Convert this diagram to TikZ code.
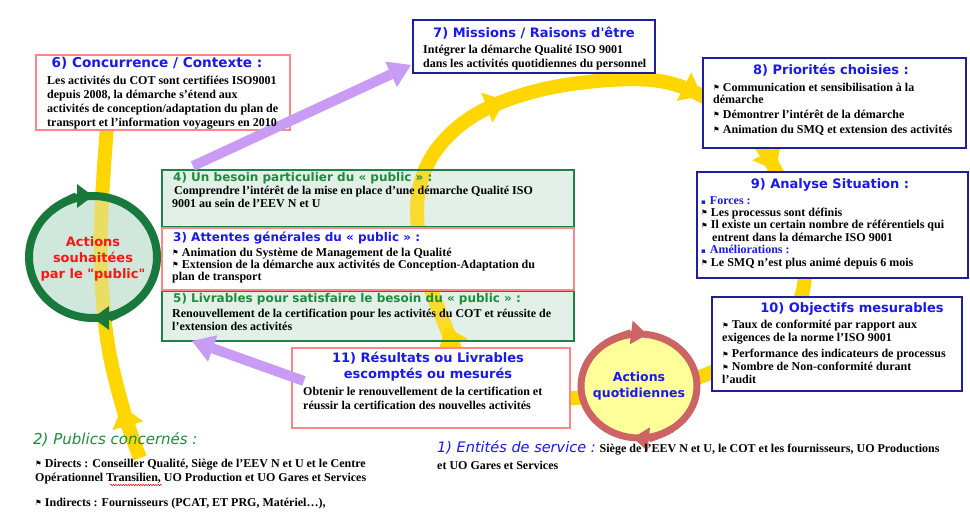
\documentclass[tikz,border=0pt]{standalone}
\usepackage{fontspec}
\setmainfont{Liberation Serif}
\newfontfamily\sansf{DejaVu Sans}
\usetikzlibrary{arrows.meta,decorations.markings,decorations.pathmorphing,shapes.geometric}
\definecolor{yel}{RGB}{255,214,0}
\definecolor{purp}{RGB}{200,155,245}
\definecolor{bblue}{RGB}{30,30,160}
\definecolor{tblue}{RGB}{25,25,235}
\definecolor{pinkb}{RGB}{255,135,135}
\definecolor{greenb}{RGB}{30,130,70}
\definecolor{greent}{RGB}{30,140,60}
\definecolor{greenfill}{RGB}{226,240,232}
\definecolor{ringgreen}{RGB}{25,120,60}
\definecolor{ringfill}{RGB}{208,232,220}
\definecolor{ringred}{RGB}{205,100,100}
\definecolor{lightyel}{RGB}{255,255,153}
\definecolor{redtxt}{RGB}{255,20,20}
\newcommand\myflag{{\sansf\fontsize{7.5}{6}\selectfont\raisebox{0.6pt}{⚑}}\hspace{3pt}}
\newcommand\mysq{{\sansf\fontsize{7}{6}\selectfont ▪}\hspace{4pt}}
\begin{document}
\begin{tikzpicture}[x=1pt,y=-1pt,
  yellowline/.style={draw=yel, line width=14pt},
  ytip/.tip={Triangle[width=32pt,length=20pt,line width=0pt]},
  leftdeco/.style={postaction={decorate}, decoration={markings, mark=at position 0.15 with {\arrow{ytip}}}},
  loopdeco/.style={postaction={decorate}, decoration={markings,
    mark=at position 0.04 with {\arrow{ytip}},
    mark=at position 0.30 with {\arrow{ytip}},
    mark=at position 0.493 with {\arrow{ytip}},
    mark=at position 0.596 with {\arrow{ytip}}}},
  boxbase/.style={anchor=north west, inner sep=0pt, outer sep=0pt, line width=1.8pt},
  bluebox/.style={boxbase, draw=bblue, fill=white, line width=2.2pt},
  pinkbox/.style={boxbase, draw=pinkb, fill=white},
  greenbox/.style={boxbase, fill=greenfill},
  greenframe/.style={draw=greenb, line width=1.8pt},
  ttl/.style={inner sep=0pt, font=\sansf\bfseries\fontsize{13}{16}\selectfont, text=tblue, align=center},
  sttl/.style={ttl, font=\sansf\bfseries\fontsize{12}{14}\selectfont, anchor=north west},
  bodyt/.style={inner sep=0pt, anchor=north west, align=left, font=\bfseries\fontsize{12}{14}\selectfont},
  purparrow/.style={draw=purp, line width=10pt, -{Triangle[width=28pt,length=22pt,line width=0pt]}},
  ringarrow/.style={line width=8pt, -{Triangle[width=24pt,length=16pt,line width=0pt]}}
]
\useasboundingbox (0,0) rectangle (970,517);
\fill[white] (0,0) rectangle (970,517);

% ---------- yellow paths ----------
\coordinate (l0) at (140,458);
\coordinate (l1) at (124,412);
\coordinate (l2) at (108,345);
\coordinate (l3) at (101,270);
\coordinate (l4) at (102,200);
\coordinate (l5) at (109,100);
\def\leftplot{plot[smooth, tension=0.6] coordinates {(l0) (l1) (l2) (l3) (l4) (l5)}}
\draw[yellowline, leftdeco] \leftplot;

\coordinate (y0) at (462,365);
\coordinate (y1) at (447,330);
\coordinate (y2) at (428,280);
\coordinate (y3) at (418,230);
\coordinate (y4) at (420,185);
\coordinate (y5) at (440,145);
\coordinate (y6) at (480,112);
\coordinate (y7) at (540,90);
\coordinate (y8) at (610,80);
\coordinate (y9) at (665,82);
\coordinate (y10) at (710,100);
\coordinate (y11) at (745,125);
\coordinate (y12) at (770,160);
\coordinate (y13) at (795,215);
\coordinate (y14) at (805,270);
\coordinate (y15) at (795,310);
\coordinate (y16) at (760,345);
\coordinate (y17) at (705,375);
\coordinate (y18) at (640,392);
\coordinate (y19) at (575,398);
\coordinate (y20) at (545,400);
\def\loopplot{plot[smooth, tension=0.6] coordinates {(y0) (y1) (y2) (y3) (y4) (y5) (y6) (y7) (y8) (y9) (y10) (y11) (y12) (y13) (y14) (y15) (y16) (y17) (y18) (y19) (y20)}}
\draw[yellowline, loopdeco] \loopplot;

% ---------- green circle ----------
\node[ellipse, fill=ringfill, minimum width=128pt, minimum height=122pt, inner sep=0pt] (gcirc) at (93,257) {};
\begin{scope}
  \clip (gcirc.center) ellipse[x radius=64pt, y radius=61pt];
  \draw[yellowline, draw opacity=0.55] \leftplot;
\end{scope}
\draw[ringgreen, line width=8pt] (gcirc.center) ellipse[x radius=64pt, y radius=61pt];
\draw[ringarrow, ringgreen] ([shift={(130:64pt and 61pt)}]gcirc.center)
   arc[start angle=130, end angle=90, x radius=64pt, y radius=61pt];
\draw[ringarrow, ringgreen] ([shift={(-50:64pt and 61pt)}]gcirc.center)
   arc[start angle=-50, end angle=-90, x radius=64pt, y radius=61pt];
\node[align=center, inner sep=0pt, text=redtxt, font=\sansf\bfseries\fontsize{13}{16}\selectfont] (gtxt) at (93,259)
   {Actions\\souhaitées\\par le "public"};

% ---------- red circle ----------
\node[ellipse, draw=ringred, line width=7pt, fill=lightyel,
      minimum width=116pt, minimum height=104pt, inner sep=0pt] (rcirc) at (639,386) {};
\draw[ringarrow, ringred, line width=7pt] ([shift={(125:58pt and 52pt)}]rcirc.center)
   arc[start angle=125, end angle=82, x radius=58pt, y radius=52pt];
\draw[ringarrow, ringred, line width=7pt] ([shift={(-55:58pt and 52pt)}]rcirc.center)
   arc[start angle=-55, end angle=-96, x radius=58pt, y radius=52pt];
\node[align=center, inner sep=0pt, text=tblue, font=\sansf\bfseries\fontsize{12.5}{16}\selectfont] (rtxt) at (639,386)
   {Actions\\quotidiennes};

% ---------- boxes ----------
\node[pinkbox, minimum width=254pt, minimum height=75pt] (b6) at (36,55) {};
\node[bluebox, minimum width=242pt, minimum height=53pt] (b7) at (413,20) {};
\node[bluebox, minimum width=263pt, minimum height=90pt] (b8) at (703,58) {};
\node[bluebox, minimum width=271pt, minimum height=106pt] (b9) at (697,172) {};
\node[bluebox, minimum width=250pt, minimum height=94pt] (b10) at (712,297) {};
\node[pinkbox, minimum width=278pt, minimum height=80pt] (b11) at (292,348) {};
\node[greenbox, minimum width=412pt, minimum height=57pt] (b4) at (162,170) {};
\node[greenbox, minimum width=412pt, minimum height=50pt] (b5) at (162,291) {};
% yellow seen through the green boxes
\begin{scope}
  \clip (b4.north west) rectangle (b4.south east);
  \draw[yellowline, draw opacity=0.8, loopdeco] \loopplot;
\end{scope}
\begin{scope}
  \clip (b5.north west) rectangle (b5.south east);
  \draw[yellowline, draw opacity=0.8, loopdeco] \loopplot;
\end{scope}
\draw[greenframe] (b4.north west) rectangle (b4.south east);
\draw[greenframe] (b5.north west) rectangle (b5.south east);
\node[pinkbox, minimum width=412pt, minimum height=62pt] (b3) at (162,228) {};

% ---------- purple arrows ----------
\coordinate (pa1s) at (193,166);
\coordinate (pa1e) at (411,65);
\draw[purparrow] (pa1s) -- (pa1e);
\coordinate (pa2s) at (304,381);
\coordinate (pa2e) at (192,341);
\draw[purparrow] (pa2s) -- (pa2e);

% ---------- texts ----------
\node[ttl, anchor=north, font=\sansf\bfseries\fontsize{13.6}{16}\selectfont] (t6) at (157,57) {6) Concurrence / Contexte :};
\node[bodyt] (c6) at (47,76) {Les activités du COT sont certifiées ISO9001\\
depuis 2008, la démarche s’étend aux\\
activités de conception/adaptation du plan de\\
transport et l’information voyageurs en 2010};

\node[ttl, anchor=north] (t7) at (534,27) {7) Missions / Raisons d'être};
\node[bodyt] (c7) at (423,45) {Intégrer la démarche Qualité ISO 9001\\
dans les activités quotidiennes du personnel};

\node[ttl, anchor=north] (t8) at (831,64) {8) Priorités choisies :};
\node[bodyt, font=\bfseries\fontsize{12}{12}\selectfont] (c8) at (713,83) {\myflag Communication et sensibilisation à la\\
démarche\\[3pt]
\myflag Démontrer l’intérêt de la démarche\\[3pt]
\myflag Animation du SMQ et extension des activités};

\node[ttl, anchor=north] (t9) at (830,178) {9) Analyse Situation :};
\node[bodyt, font=\bfseries\fontsize{12}{12.4}\selectfont] (c9) at (701,196) {{\color{tblue}\mysq Forces :}\\
\myflag Les processus sont définis\\
\myflag Il existe un certain nombre de référentiels qui\\
\hspace*{11pt}entrent dans la démarche ISO 9001\\
{\color{tblue}\mysq Améliorations :}\\
\myflag Le SMQ n’est plus animé depuis 6 mois};

\node[ttl, anchor=north] (t10) at (852,302) {10) Objectifs mesurables};
\node[bodyt, font=\bfseries\fontsize{12}{13}\selectfont] (c10) at (722,320) {\myflag Taux de conformité par rapport aux\\
exigences de la norme l’ISO 9001\\[3pt]
\myflag Performance des indicateurs de processus\\[0pt]
\myflag Nombre de Non-conformité durant\\
l’audit};

\node[sttl, text=greent] (t4) at (173,172) {4) Un besoin particulier du « public » :};
\node[bodyt, font=\bfseries\fontsize{12}{13}\selectfont] (c4) at (172,186) {\hspace*{2pt}Comprendre l’intérêt de la mise en place d’une démarche Qualité ISO\\
9001 au sein de l’EEV N et U};

\node[sttl] (t3) at (173,232) {3) Attentes générales du « public » :};
\node[bodyt, font=\bfseries\fontsize{12}{12}\selectfont] (c3) at (172,248) {\myflag Animation du Système de Management de la Qualité\\
\myflag Extension de la démarche aux activités de Conception-Adaptation du\\
plan de transport};

\node[sttl, text=greent] (t5) at (173,293) {5) Livrables pour satisfaire le besoin du « public » :};
\node[bodyt, font=\bfseries\fontsize{12}{12.5}\selectfont] (c5) at (172,309) {Renouvellement de la certification pour les activités du COT et réussite de\\
l’extension des activités};

\node[ttl, anchor=north] (t11) at (428,352) {11) Résultats ou Livrables\\escomptés ou mesurés};
\node[bodyt, font=\bfseries\fontsize{12}{14}\selectfont] (c11) at (303,387) {Obtenir le renouvellement de la certification et\\
réussir la certification des nouvelles activités};

\node[inner sep=0pt, anchor=north west, text=greent, font=\sansf\itshape\fontsize{15}{18}\selectfont] (t2) at (33,432) {2) Publics concernés :};
\node[bodyt, font=\bfseries\fontsize{12}{14}\selectfont] (c2) at (35,459) {\myflag Directs : Conseiller Qualité, Siège de l’EEV N et U et le Centre\\
Opérationnel Transilien, UO Production et UO Gares et Services\\[11pt]
\myflag Indirects : Fournisseurs (PCAT, ET PRG, Matériel…),};
\coordinate (wv0) at (110,485);
\coordinate (wv1) at (162,485);
\draw[red, line width=0.5pt, decorate, decoration={snake, amplitude=0.7pt, segment length=2.5pt}] (wv0) -- (wv1);

\node[bodyt, font=\bfseries\fontsize{12}{16.5}\selectfont] (c1) at (437,441) {{\sansf\mdseries\itshape\color{tblue}\fontsize{14.5}{16}\selectfont 1) Entités de service :} Siège de l’EEV N et U, le COT et les fournisseurs, UO Productions\\
et UO Gares et Services};
\end{tikzpicture}
\end{document}
